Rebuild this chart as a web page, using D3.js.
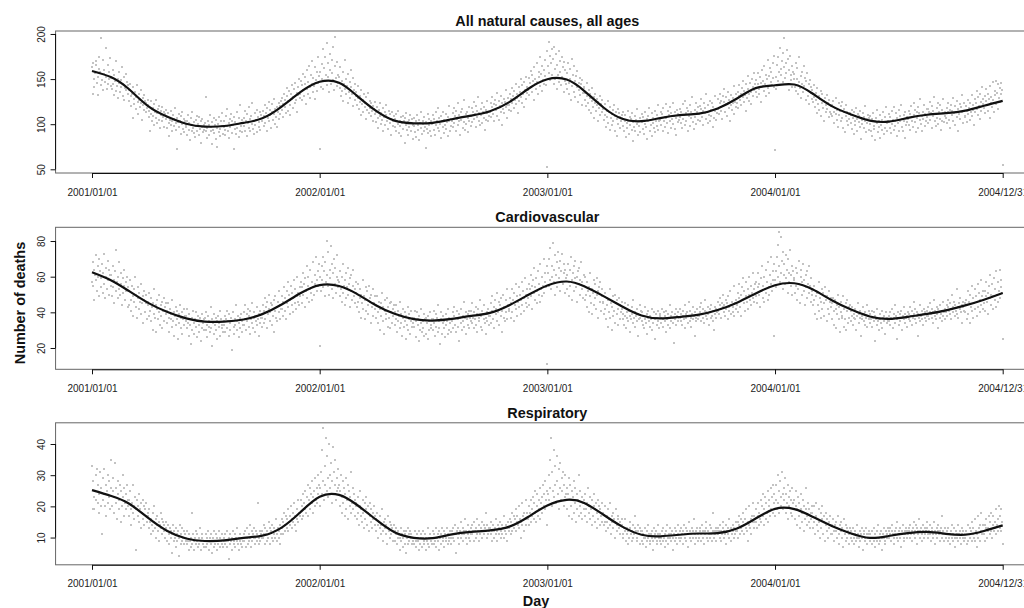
<!DOCTYPE html>
<html>
<head>
<meta charset="utf-8">
<script src="https://cdn.jsdelivr.net/npm/d3@7"></script>
<style>
  body { margin: 0; background: #fff; }
  svg text { font-family: "Liberation Sans", Arial, Helvetica, sans-serif; }
</style>
</head>
<body>
<div id="chart"></div>
<script>
// Panel titles and axis labels
var panelTitles = ["All natural causes, all ages", "Cardiovascular", "Respiratory"];
var yAxisLabel = "Number of deaths";
var xAxisLabel = "Day";

// x tick positions and their labels
var tickDays = ["2001-01-01", "2002-01-01", "2003-01-01", "2004-01-01", "2004-12-31"];
var tickLabels = ["2001/01/01", "2002/01/01", "2003/01/01", "2004/01/01", "2004/12/31"];

// y ticks for each panel
var allCausesTicks = [50, 100, 150, 200];
var cardioTicks = [20, 40, 60, 80];
var respTicks = [10, 20, 30, 40];

// Smoothed curve, read at the first day of every month (plus 2004/12/31)
var allCausesSmooth = [
  159, 152, 139, 120, 108.5, 100.5, 97.3, 98, 101.5, 106.5, 119.5, 135.5,
  147, 146, 132, 115, 104, 101, 101.5, 105.5, 109.5, 114.4, 124.5, 139,
  149.8, 149.5, 137, 118.5, 106, 103.3, 106.8, 110, 111.8, 117.5, 128.5, 140,
  143.2, 144, 134, 120, 111, 104, 102.8, 107, 110.5, 112.2, 115, 120.5, 125.9
];
var cardioSmooth = [
  62.5, 57.9, 52, 45.3, 40.3, 36.6, 34.8, 34.8, 36, 39, 44.4, 50.7,
  55.3, 54.8, 50.5, 44, 39.2, 36.2, 35.4, 36.3, 38, 39.7, 44, 49.7,
  55.1, 57.3, 54.6, 49.1, 43.3, 38.2, 36.6, 37.4, 38.7, 41.3, 45.4, 50.6,
  55.2, 56.3, 52.9, 46.8, 41.7, 37.7, 36.3, 37.5, 39.1, 41.1, 43.9, 47.1, 50.9
];
var respSmooth = [
  25.2, 23.3, 20.9, 16.3, 12.2, 9.7, 8.9, 9.1, 9.9, 10.6, 13.2, 18.1,
  23.1, 23.7, 20.6, 15.8, 11.7, 9.9, 9.8, 11, 11.8, 12.3, 13.5, 16.6,
  20.3, 22.1, 21.1, 17.3, 13.5, 10.9, 10.4, 10.9, 11.3, 11.4, 12.9, 16.1,
  19.2, 19.1, 16.7, 13.7, 11.4, 9.9, 10.5, 11.4, 11.8, 11.2, 10.9, 12.1, 13.9
];

// Daily counts, one row per month (2001/01 ... 2004/12)
var allCausesDaily = [
  [163,133,168,150,141,157,170,166,146,132,152,161,175,158,143,196,149,171,138,156,160,147,185,152,139,166,144,158,150,173,142],
  [151,139,160,144,132,155,148,137,170,142,150,129,146,158,136,149,141,163,131,145,152,127,140,156,138,147,133,143],
  [138,126,145,131,120,134,107,141,128,122,136,117,130,143,125,111,133,127,119,138,124,105,129,121,132,116,126,113,123,118,127],
  [121,108,115,93,126,111,104,118,109,122,99,114,107,127,112,101,117,105,120,96,110,115,103,119,108,113,97,111,106,116],
  [108,96,112,101,87,105,115,99,103,92,110,106,98,118,101,94,107,72,102,111,97,104,89,109,100,113,95,106,91,103,99],
  [97,104,88,110,94,101,83,99,107,92,113,96,90,102,86,105,98,109,93,100,88,108,95,103,79,97,106,91,99,94],
  [101,92,130,96,85,104,99,88,110,93,97,78,102,94,107,90,99,84,105,96,75,100,91,108,95,87,103,98,112,89,97],
  [103,94,88,109,98,117,92,101,85,106,97,111,90,104,99,73,108,95,102,89,114,96,100,86,107,93,121,98,91,105,101],
  [107,98,115,92,104,111,87,101,119,96,106,93,109,100,124,95,103,89,112,99,105,116,91,108,97,102,113,94,110,104],
  [104,115,98,109,121,101,112,93,118,107,125,103,110,116,96,113,122,105,111,128,100,117,108,119,97,114,124,106,120,111,126],
  [116,129,108,122,134,119,127,112,131,140,115,126,137,121,110,133,128,143,118,130,139,124,146,127,135,113,141,132,150,129],
  [134,148,127,143,156,138,131,152,145,122,160,139,147,133,165,141,129,155,144,170,136,151,142,163,128,149,158,137,174,146,153],
  [73,158,141,167,150,183,139,162,175,148,155,190,143,168,152,136,178,160,145,171,157,149,186,138,164,197,151,142,169,155,146],
  [152,140,163,131,148,137,158,126,145,171,139,133,150,142,124,156,136,147,129,160,141,134,120,151,138,127,144,131],
  [136,121,129,142,117,131,125,110,138,122,127,113,133,119,124,106,130,116,121,135,112,118,126,109,123,115,120,104,117,125,111],
  [113,102,119,107,96,116,109,123,100,112,105,93,118,108,114,99,110,121,103,107,95,115,101,111,88,106,113,98,104,109],
  [106,97,111,93,103,100,115,90,104,98,108,87,101,109,95,103,79,107,99,112,94,102,88,105,97,110,92,101,106,84,99],
  [98,107,91,103,86,110,99,94,105,82,101,113,96,89,104,100,93,108,97,74,102,95,111,90,99,106,92,103,87,100],
  [101,110,94,106,88,113,99,104,96,118,92,107,100,85,109,103,97,114,90,105,99,111,95,102,87,108,104,120,93,106,98],
  [104,112,97,118,101,109,92,115,106,99,123,103,110,88,113,105,117,96,108,102,127,94,111,100,114,107,91,119,104,109,98],
  [109,118,102,114,125,106,111,97,120,108,115,130,104,112,99,117,110,123,101,113,107,119,94,116,105,112,126,103,114,109],
  [113,124,108,119,130,111,122,103,127,116,121,135,109,118,126,105,120,131,114,123,99,117,128,112,125,119,138,107,121,129,116],
  [121,133,115,128,140,124,131,118,137,127,145,122,134,129,112,141,126,136,150,130,123,143,133,119,147,138,128,152,135,141],
  [138,151,132,146,159,141,136,155,148,127,163,144,150,139,168,147,133,158,152,175,142,156,137,165,149,160,145,171,153,143,181],
  [52,164,191,157,176,149,168,183,155,172,145,186,161,150,178,139,166,154,181,147,170,158,143,175,152,163,136,169,148,160,144],
  [157,139,168,146,133,161,150,127,172,142,155,136,164,148,130,153,141,159,125,146,138,151,132,144,121,149,135,140],
  [141,127,135,120,146,131,123,138,116,129,134,112,126,140,119,130,107,124,133,115,121,128,104,125,118,131,110,122,114,127,117],
  [118,105,122,110,97,115,108,126,101,113,94,119,107,111,99,116,104,121,92,109,114,87,106,117,100,112,96,108,103,110],
  [107,98,113,92,104,110,86,101,96,115,103,89,108,99,106,94,112,81,102,97,109,93,105,100,117,88,103,98,107,91,104],
  [102,111,95,108,89,114,100,97,106,84,109,103,118,93,105,99,112,87,101,107,96,115,91,104,110,98,121,94,103,106],
  [105,114,99,111,93,118,103,108,97,122,107,101,115,90,110,104,119,96,112,106,124,100,109,95,113,107,88,116,102,111,105],
  [108,117,101,113,96,122,106,110,99,126,112,104,118,93,115,109,121,98,114,107,130,102,111,95,116,108,123,100,113,105,119],
  [111,120,104,117,128,108,115,99,123,112,118,133,106,114,101,121,110,126,103,116,109,124,97,119,107,115,131,105,117,112],
  [117,128,111,123,134,115,126,106,131,120,125,139,113,122,130,109,124,136,118,127,103,121,132,116,129,123,142,111,125,133,119],
  [124,136,118,131,143,127,134,121,140,130,148,125,137,132,115,144,129,139,153,133,126,146,136,122,150,141,131,157,138,144],
  [136,149,130,144,157,139,133,152,146,125,160,142,148,137,165,145,131,155,150,171,140,153,135,162,147,158,143,168,151,141,176],
  [71,152,139,166,148,175,158,143,184,161,154,170,147,179,163,196,151,168,157,182,145,172,160,138,176,155,149,165,141,158,150],
  [156,141,168,137,150,162,133,147,174,140,153,129,158,145,136,164,142,151,127,148,138,157,131,144,122,149,135,141,128],
  [138,125,143,130,119,135,127,112,140,122,131,116,128,137,109,124,133,118,126,104,129,121,113,132,117,123,108,127,114,120,111],
  [121,109,126,114,101,118,111,129,105,116,97,123,110,115,103,120,107,125,96,113,117,91,109,121,104,114,99,111,106,112],
  [110,101,116,95,107,113,89,104,99,118,106,92,111,102,109,97,115,84,105,100,112,96,108,103,120,91,106,101,110,94,107],
  [100,109,93,106,87,112,98,95,104,82,107,101,116,91,103,97,110,85,99,105,94,113,89,102,108,96,119,92,101,104],
  [102,111,96,108,90,115,100,105,94,119,104,98,112,87,107,101,116,93,109,103,121,97,106,92,110,104,85,113,99,108,102],
  [106,115,99,111,94,120,104,108,97,124,110,102,116,91,113,107,119,96,112,105,128,100,109,93,114,106,121,98,111,103,117],
  [108,117,101,114,125,105,112,96,120,109,115,130,103,111,98,118,107,123,100,113,106,121,94,116,104,112,128,102,114,109],
  [107,118,101,113,124,105,116,96,121,110,115,129,103,112,120,99,114,126,108,117,93,111,122,106,119,113,132,101,115,123,109],
  [108,120,102,115,127,111,118,105,124,114,132,109,121,116,99,128,113,123,137,117,110,130,120,106,134,125,115,141,122,128],
  [118,131,112,126,139,121,115,134,128,107,142,124,130,119,147,127,113,137,132,148,122,135,117,144,129,140,125,146,133,138,55]
];

var cardioDaily = [
  [57,68,55,64,47,61,72,58,52,66,60,49,70,63,54,59,67,51,62,73,56,48,65,60,53,69,58,50,64,61,55],
  [61,49,66,54,58,45,63,52,75,57,48,60,53,68,50,56,62,44,59,51,55,64,47,57,52,60,43,54],
  [52,44,58,47,41,55,49,38,53,46,60,43,50,37,48,54,42,51,46,39,56,45,49,34,47,52,40,45,50,36,44],
  [46,38,51,41,35,48,43,30,45,39,53,37,44,29,42,47,36,40,50,33,44,38,46,31,41,48,35,43,39,45],
  [41,34,45,37,29,42,36,39,32,47,35,40,27,38,43,33,36,41,25,39,34,44,31,37,40,28,36,42,33,38,35],
  [38,31,42,34,27,39,33,36,22,37,30,41,34,28,36,32,40,26,35,38,29,33,37,24,35,31,39,34,30,36],
  [37,30,40,33,26,38,32,35,29,43,31,36,21,34,39,28,33,37,30,35,25,38,32,34,41,27,36,31,33,29,35],
  [33,38,29,36,41,31,35,27,39,34,30,37,19,35,40,32,28,36,33,44,30,35,38,26,34,37,31,39,29,35,33],
  [40,33,44,36,30,39,35,42,32,38,28,41,36,34,45,31,37,40,29,38,35,43,33,36,27,39,34,41,37,32],
  [37,44,34,41,48,36,43,31,46,39,42,50,35,40,45,33,44,38,47,29,41,49,37,43,35,46,40,52,36,44,42],
  [42,49,38,46,54,41,48,36,52,45,57,43,50,39,47,55,44,51,40,48,58,45,53,42,49,60,46,51,44,54],
  [49,57,45,54,62,50,56,43,59,52,66,48,55,60,46,53,64,51,57,47,68,54,50,61,56,71,52,58,63,55,67],
  [21,60,52,66,58,71,54,63,49,68,57,80,61,55,74,50,64,59,77,53,67,48,62,70,56,65,51,60,72,54,58],
  [57,49,63,53,46,60,51,67,55,44,58,62,48,54,65,50,56,43,59,52,61,47,55,64,49,53,45,57],
  [51,43,56,46,40,53,48,37,50,45,58,42,49,36,47,54,41,52,44,39,55,46,48,34,50,43,53,38,45,49,42],
  [44,37,49,40,34,46,42,30,45,38,51,35,43,28,41,47,36,39,48,32,43,37,45,31,40,46,34,42,38,44],
  [40,33,44,36,29,41,35,38,31,46,34,39,27,37,42,32,35,40,25,38,33,43,30,36,39,28,35,41,32,37,34],
  [37,32,41,35,26,40,33,36,24,38,30,42,34,29,35,31,39,27,36,37,28,34,38,25,35,30,40,33,31,36],
  [36,30,41,34,27,39,32,37,29,44,31,35,22,36,40,28,34,38,31,35,26,39,33,35,42,28,37,30,34,29,36],
  [35,40,31,38,43,33,37,29,41,36,32,39,24,37,42,34,30,38,35,46,32,37,40,28,36,39,33,41,31,37,35],
  [41,34,45,37,31,40,36,43,33,39,29,42,37,35,47,32,38,41,30,39,36,44,34,37,28,40,35,42,38,33],
  [38,45,34,41,49,36,43,31,47,39,42,51,35,40,46,33,44,38,48,29,41,50,37,43,35,47,40,53,36,44,42],
  [41,48,37,45,53,40,47,35,51,44,56,42,49,38,46,54,43,50,39,47,57,44,52,41,48,59,45,50,43,53],
  [48,56,44,53,61,49,55,42,58,51,65,47,54,59,45,52,63,50,56,46,67,53,49,60,55,70,51,57,62,54,66],
  [11,62,55,70,58,76,53,66,60,79,57,64,50,72,61,68,54,74,59,65,52,69,63,57,73,56,62,67,51,64,59],
  [61,53,67,57,49,64,55,71,58,47,62,66,52,59,69,54,60,46,63,56,65,50,58,68,53,57,48,61],
  [55,47,60,50,43,57,52,40,54,49,62,45,53,39,51,58,44,56,48,42,59,50,52,37,54,46,57,41,49,53,45],
  [46,39,51,42,36,48,44,32,47,40,53,37,45,30,43,49,38,41,50,34,45,39,47,33,42,48,36,44,40,46],
  [42,36,39,33,45,38,31,40,37,44,35,41,29,38,36,43,39,34,47,37,32,40,38,35,42,27,39,36,44,37,41],
  [35,40,33,38,31,43,36,34,39,28,37,41,35,32,38,36,42,30,37,34,40,25,36,39,33,37,35,41,31,38],
  [39,34,37,42,32,36,40,35,38,29,41,36,33,39,37,44,31,38,35,40,34,37,23,39,36,42,33,38,35,40,37],
  [37,42,35,39,33,41,38,36,44,31,39,37,40,34,38,46,35,41,37,32,39,43,36,38,27,40,37,35,42,38,36],
  [38,43,40,35,45,39,37,42,34,41,47,38,40,36,43,39,33,42,40,37,44,38,35,41,30,43,39,37,42,40],
  [41,46,39,44,48,42,37,45,43,50,40,44,38,47,42,45,36,49,43,41,52,39,44,46,40,43,55,38,45,42,47],
  [44,51,40,48,56,43,50,38,54,47,59,45,52,41,49,57,46,53,42,50,60,47,55,44,51,62,48,53,46,56],
  [49,57,45,54,62,50,56,43,59,52,66,48,55,60,46,53,64,51,57,47,68,54,50,61,56,71,52,58,63,27,67],
  [58,63,54,71,60,78,85,66,57,82,62,69,53,74,61,67,56,72,59,64,51,70,62,57,75,55,61,66,50,63,58],
  [59,51,65,55,47,62,53,69,56,45,60,64,50,57,67,52,58,44,61,54,63,48,56,66,51,55,46,59,52],
  [50,44,55,47,39,52,49,36,51,44,57,41,48,37,46,53,42,51,45,38,54,47,49,35,49,42,52,39,46,48,43],
  [45,36,48,41,33,47,42,31,44,39,50,36,43,29,40,46,37,38,49,32,42,36,45,30,41,47,34,43,37,44],
  [41,35,38,43,33,39,37,42,36,30,40,38,45,34,39,37,41,27,38,36,43,35,39,33,40,37,44,32,38,36,41],
  [34,39,36,41,32,37,35,40,24,38,36,33,42,35,37,30,39,36,34,41,31,37,35,38,28,36,40,34,37,35],
  [38,35,40,33,37,42,36,31,39,37,44,34,38,36,25,40,37,33,39,35,41,37,30,38,36,43,34,39,37,32,38],
  [40,36,39,43,35,38,41,33,37,46,39,36,42,34,38,40,27,39,37,44,35,38,41,36,39,33,42,37,40,35,38],
  [41,38,43,36,40,45,39,37,42,34,40,47,38,41,36,43,39,31,42,40,37,44,39,35,41,38,46,40,36,42],
  [40,44,38,43,47,41,39,45,36,42,50,43,40,46,38,44,41,53,39,43,37,45,42,48,40,44,34,43,46,41,45],
  [40,47,36,44,52,39,46,34,50,43,55,41,48,37,45,53,42,49,38,46,56,43,51,40,47,58,44,49,42,52],
  [45,52,41,49,57,46,51,39,55,48,61,44,50,56,42,49,59,47,53,43,63,50,46,57,52,64,48,54,58,51,25]
];

var respDaily = [
  [33,19,28,23,19,25,30,22,32,21,27,18,24,31,20,26,11,29,22,32,24,20,27,17,25,30,21,23,28,19,26],
  [35,20,25,29,18,23,34,21,26,16,24,28,19,22,27,15,25,20,30,23,17,26,21,24,19,27,22,20],
  [22,17,25,19,14,21,27,18,20,16,23,19,6,22,17,20,24,15,19,21,13,18,22,16,20,14,19,17,21,15,18],
  [17,13,19,15,11,16,14,18,12,15,20,13,10,16,14,17,12,15,9,14,18,13,11,16,15,12,14,10,13,15],
  [12,9,14,11,8,13,10,12,5,11,14,9,12,10,7,13,11,9,12,4,10,14,8,11,9,13,10,12,8,11,9],
  [10,8,12,9,6,11,9,10,7,18,8,11,9,6,10,12,8,9,11,7,10,8,13,9,6,10,11,8,9,7],
  [9,11,7,10,8,12,6,9,10,8,11,5,9,10,7,12,8,9,11,6,10,8,9,12,7,10,9,8,11,7,9],
  [10,8,11,9,7,12,9,3,10,8,11,9,6,10,12,8,9,11,7,10,9,13,8,10,6,9,11,8,10,7,9],
  [11,9,12,10,7,13,10,8,11,9,14,10,7,12,9,11,10,13,8,10,12,9,11,21,10,8,12,9,11,10],
  [12,10,14,11,8,13,11,9,12,10,15,11,8,13,12,10,14,9,11,13,10,12,16,9,11,13,10,12,8,14,11],
  [13,16,11,15,18,12,14,17,13,16,19,12,15,17,14,20,13,16,18,15,21,14,17,12,19,16,22,15,18,17],
  [18,22,16,20,24,17,21,19,25,18,23,20,27,17,22,26,19,24,21,28,18,23,25,20,29,22,26,21,30,24,27],
  [20,26,31,24,38,28,45,22,33,27,42,25,36,29,23,40,30,26,34,21,28,39,24,31,27,35,22,29,25,32,26],
  [27,20,25,30,18,23,28,21,26,17,24,29,19,22,27,16,25,20,23,31,18,21,26,19,24,17,22,20],
  [21,16,23,18,14,20,25,17,19,15,22,18,13,21,16,19,23,14,18,20,12,17,21,15,19,13,18,16,20,14,17],
  [16,12,18,14,10,15,13,17,11,14,19,12,9,15,13,16,11,14,8,13,17,12,10,15,14,11,13,9,12,14],
  [12,9,13,11,8,12,10,11,6,10,13,9,11,10,7,12,11,8,12,5,10,13,8,11,9,12,10,11,8,10,9],
  [10,8,12,9,7,11,10,9,6,12,8,11,10,7,10,12,9,8,11,6,10,9,13,8,7,10,11,9,10,8],
  [10,12,8,11,9,13,7,10,11,9,12,6,10,11,8,13,9,10,12,7,11,9,10,13,8,11,10,9,12,8,10],
  [12,10,13,11,9,14,11,5,12,10,13,11,8,12,15,10,11,13,9,12,11,16,10,12,8,11,14,10,12,9,11],
  [13,11,14,12,9,15,12,10,13,11,16,12,9,14,11,13,12,15,10,12,14,11,13,18,12,10,14,11,13,12],
  [13,11,15,12,9,14,12,10,13,11,16,12,9,14,13,11,15,10,12,14,11,13,17,10,12,14,11,13,9,15,12],
  [13,16,11,15,18,12,14,17,13,16,19,12,15,17,14,20,13,16,10,15,21,14,17,12,18,16,22,14,18,16],
  [16,20,14,18,22,15,19,17,23,16,21,18,25,15,20,24,17,22,19,26,16,21,23,18,27,20,24,19,28,22,25],
  [14,24,30,22,35,26,42,20,31,25,38,23,33,27,21,36,28,24,32,19,26,34,22,29,25,31,20,27,23,30,24],
  [26,19,24,29,17,22,27,20,25,16,23,28,18,21,26,15,24,19,22,30,17,20,25,18,23,16,21,19],
  [22,17,24,19,15,21,26,18,20,16,23,19,14,22,17,20,24,15,19,21,13,18,22,16,20,14,19,17,21,15,18],
  [18,14,20,15,12,17,15,19,13,16,21,14,11,17,15,18,13,16,10,15,19,14,12,17,16,13,15,11,14,16],
  [14,11,10,13,16,12,9,11,13,12,8,10,15,13,11,12,9,14,10,11,13,17,12,10,9,12,14,11,8,13,12],
  [9,12,11,8,10,13,10,7,9,12,14,10,11,9,8,11,12,10,6,9,13,11,10,12,8,9,11,14,10,9],
  [11,10,8,12,13,9,10,11,7,9,12,14,10,8,11,10,13,9,11,12,6,10,11,9,13,12,10,8,11,14,10],
  [12,9,10,13,11,8,12,14,11,10,9,13,12,7,11,15,10,12,11,9,13,10,12,16,11,8,10,12,13,11,9],
  [10,13,12,9,11,14,12,10,8,12,11,13,15,10,9,12,11,14,10,13,11,9,12,18,10,12,11,13,9,12],
  [13,11,12,10,14,12,9,11,13,15,12,10,11,14,8,12,13,11,10,16,12,13,9,11,14,12,10,13,11,15,12],
  [12,15,10,14,17,11,13,16,12,15,18,11,14,16,13,19,12,15,9,14,20,13,16,11,17,15,21,13,17,15],
  [15,19,13,17,21,14,18,16,22,15,20,17,24,14,19,23,16,21,18,25,15,20,22,17,26,19,23,18,27,21,24],
  [17,22,27,19,30,21,25,18,28,23,20,31,24,19,26,22,29,18,24,21,27,16,23,20,25,18,22,26,17,21,19],
  [22,16,20,25,14,19,23,17,21,13,19,24,15,18,22,12,20,16,19,26,14,17,21,15,19,13,18,16,20],
  [18,13,20,15,11,17,21,14,16,12,19,15,10,18,13,16,20,11,15,17,9,14,18,12,16,10,15,13,17,11,14],
  [14,11,16,12,9,14,12,15,10,13,17,11,8,14,12,15,10,13,7,12,16,11,9,14,13,10,12,8,11,13],
  [12,10,9,11,13,10,8,12,11,9,10,14,11,7,10,12,9,11,13,10,6,11,12,9,10,13,11,8,10,12,11],
  [9,11,10,12,8,10,13,9,7,11,10,12,9,14,10,8,11,9,12,10,6,11,13,10,9,8,12,11,10,13],
  [12,10,11,13,9,12,14,11,10,8,12,11,13,10,15,9,11,12,10,13,7,11,12,14,10,9,12,11,13,10,12],
  [11,13,12,10,14,11,9,12,13,15,11,10,12,14,8,13,11,12,16,10,12,13,11,9,14,12,10,13,11,12,15],
  [13,11,10,12,14,11,9,13,12,10,11,15,12,8,11,13,10,12,14,11,9,12,13,17,10,11,12,9,13,11],
  [10,12,11,9,13,10,8,11,12,14,10,9,11,13,10,7,12,11,10,14,9,11,12,10,8,13,11,12,10,9,11],
  [10,12,8,11,14,9,11,13,10,12,15,9,11,13,10,16,9,12,7,11,17,10,13,9,14,12,18,11,14,12],
  [11,14,9,13,16,10,13,12,17,11,15,12,18,10,14,17,12,15,13,19,11,14,16,12,20,13,17,12,19,15,8]
];

// Define SVG area dimensions
var svgWidth = 1024;
var svgHeight = 608;

var svg = d3.select("#chart")
  .append("svg")
  .attr("width", svgWidth)
  .attr("height", svgHeight);

var parseDay = d3.utcParse("%Y-%m-%d");
var firstDay = parseDay("2001-01-01");
var lastDay = parseDay("2004-12-31");

// x scale shared by all panels (R style: 4% padding each side of the data)
var xScale = d3.scaleUtc()
  .domain([firstDay, lastDay])
  .range([92, 1002.7]);
var xPad = (xScale.range()[1] - xScale.range()[0]) * 0.04;
var boxLeft = xScale.range()[0] - xPad;
var boxRight = xScale.range()[1] + xPad;

var monthStarts = d3.utcMonth.range(firstDay, parseDay("2005-01-01"));
var knotDays = monthStarts.concat([lastDay]);
var tickDates = tickDays.map(parseDay);

var panelHeight = 142;
var panels = [
  { title: panelTitles[0], daily: allCausesDaily, smooth: allCausesSmooth, ticks: allCausesTicks, domain: [45.9, 203.3], top: 31 },
  { title: panelTitles[1], daily: cardioDaily, smooth: cardioSmooth, ticks: cardioTicks, domain: [8.05, 87.7], top: 227.3 },
  { title: panelTitles[2], daily: respDaily, smooth: respSmooth, ticks: respTicks, domain: [1.26, 46.8], top: 422.8 }
];

panels.forEach(function(p) {
  var bottom = p.top + panelHeight;
  var yScale = d3.scaleLinear().domain(p.domain).range([bottom, p.top]);
  var g = svg.append("g");

  // flatten the monthly rows into dated points
  var points = [];
  p.daily.forEach(function(row, m) {
    row.forEach(function(v, j) {
      points.push({ day: d3.utcDay.offset(monthStarts[m], j), value: v });
    });
  });

  g.append("g")
    .selectAll("rect")
    .data(points)
    .enter()
    .append("rect")
    .attr("x", d => Math.round(xScale(d.day)) - 1)
    .attr("y", d => Math.round(yScale(d.value)) - 1)
    .attr("width", 2)
    .attr("height", 2)
    .attr("fill", "#c3c3c3");

  // smooth curve
  var drawLine = d3.line()
    .x((d, i) => xScale(knotDays[i]))
    .y(d => yScale(d))
    .curve(d3.curveNatural);

  g.append("path")
    .attr("d", drawLine(p.smooth))
    .attr("fill", "none")
    .attr("stroke", "#111")
    .attr("stroke-width", 2.2);

  // plot box
  g.append("rect")
    .attr("x", boxLeft)
    .attr("y", p.top)
    .attr("width", boxRight - boxLeft)
    .attr("height", panelHeight)
    .attr("fill", "none")
    .attr("stroke", "#666")
    .attr("stroke-width", 1);

  // bottom axis
  var bottomAxis = d3.axisBottom(xScale)
    .tickValues(tickDates)
    .tickFormat((d, i) => tickLabels[i])
    .tickSizeInner(5)
    .tickSizeOuter(0)
    .tickPadding(10.4);

  var xg = g.append("g")
    .attr("transform", "translate(0," + bottom + ")")
    .call(bottomAxis);
  xg.selectAll("path, line").attr("stroke", "#111");
  xg.selectAll("text")
    .attr("fill", "#222")
    .style("font-size", "10px");

  // left axis with rotated labels
  var leftAxis = d3.axisLeft(yScale)
    .tickValues(p.ticks)
    .tickSizeInner(5)
    .tickSizeOuter(0);

  var yg = g.append("g")
    .attr("transform", "translate(" + boxLeft + ",0)")
    .call(leftAxis);
  yg.select(".domain").remove();
  yg.append("line")
    .attr("y1", yScale(p.ticks[0]))
    .attr("y2", yScale(p.ticks[p.ticks.length - 1]))
    .attr("stroke", "#111");
  yg.selectAll(".tick line").attr("stroke", "#111");
  yg.selectAll("text")
    .attr("x", 0)
    .attr("y", -10.5)
    .attr("dy", null)
    .attr("text-anchor", "middle")
    .attr("transform", "rotate(-90)")
    .attr("fill", "#222")
    .style("font-size", "10px");

  // panel title
  g.append("text")
    .attr("x", (boxLeft + boxRight) / 2)
    .attr("y", p.top - 5)
    .attr("text-anchor", "middle")
    .style("font-size", "14.4px")
    .style("font-weight", "bold")
    .attr("fill", "#111")
    .text(p.title);
});

svg.append("text")
  .attr("transform", "translate(24.5,303) rotate(-90)")
  .attr("text-anchor", "middle")
  .style("font-size", "14.4px")
  .style("font-weight", "bold")
  .attr("fill", "#111")
  .text(yAxisLabel);

svg.append("text")
  .attr("x", 536)
  .attr("y", 606)
  .attr("text-anchor", "middle")
  .style("font-size", "14.4px")
  .style("font-weight", "bold")
  .attr("fill", "#111")
  .text(xAxisLabel);
</script>
</body>
</html>
